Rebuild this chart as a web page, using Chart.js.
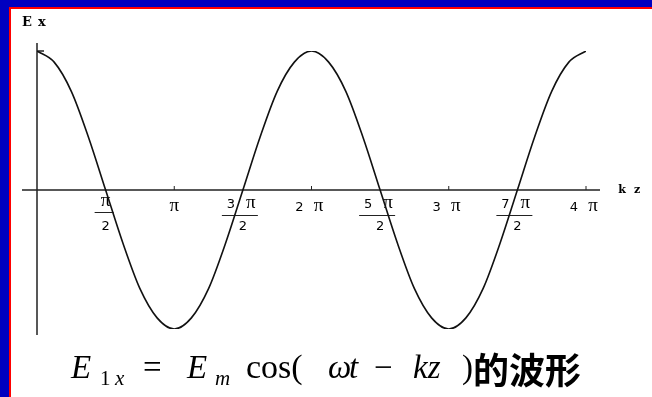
<!DOCTYPE html>
<html lang="zh">
<head>
<meta charset="UTF-8">
<title>Ex 波形</title>
<script src="https://cdn.jsdelivr.net/npm/chart.js@4/dist/chart.umd.min.js"></script>
<style>
  html, body { margin: 0; padding: 0; background: #0000c0; }
  .frame { position: relative; width: 652px; height: 397px; overflow: hidden; }
  .red { position: absolute; left: 9px; top: 7px; right: 0; bottom: 0; background: #ff0000; }
  .paper { position: absolute; left: 11px; top: 9px; right: 0; bottom: 0; background: #ffffff; }
  #wave { position: absolute; left: 0; top: 0; }
</style>
</head>
<body>
<div class="frame">
  <div class="red"></div>
  <div class="paper"></div>
  <canvas id="wave" width="652" height="397"></canvas>
</div>
<script>
// kz 取值（以 π 为单位），每 π/8 一个点
const kzValues = [
  0, 0.125, 0.25, 0.375, 0.5, 0.625, 0.75, 0.875,
  1, 1.125, 1.25, 1.375, 1.5, 1.625, 1.75, 1.875,
  2, 2.125, 2.25, 2.375, 2.5, 2.625, 2.75, 2.875,
  3, 3.125, 3.25, 3.375, 3.5, 3.625, 3.75, 3.875, 4
];
// Ex（以 Em 为单位）
const exValues = [
  1, 0.92, 0.71, 0.38, 0, -0.38, -0.71, -0.92,
  -1, -0.92, -0.71, -0.38, 0, 0.38, 0.71, 0.92,
  1, 0.92, 0.71, 0.38, 0, -0.38, -0.71, -0.92,
  -1, -0.92, -0.71, -0.38, 0, 0.38, 0.71, 0.92, 1
];

// 横轴刻度：整数倍 π 和半整数倍 π（分数形式）
const wholeTicks = [1, 2, 3, 4];
const wholeDigits = ["", "2", "3", "4"];
const halfTicks = [0.5, 1.5, 2.5, 3.5];
const halfDigits = ["", "3", "5", "7"];

const points = kzValues.map((k, i) => ({ x: k, y: exValues[i] }));

const axisColor = "#222";
const labelFont = "13px 'DejaVu Sans'";
const piFont = "19px 'Liberation Serif'";
const serif = "'Liberation Serif'";

// 公式各段：文字、字体、x、基线偏移
const formula = [
  ["E", "italic 33px " + serif, 71, 0],
  ["1", "21px " + serif, 100, 7],
  ["x", "italic 21px " + serif, 115, 7],
  ["=", "33px " + serif, 143, 0],
  ["E", "italic 33px " + serif, 187, 0],
  ["m", "italic 21px " + serif, 215, 7],
  ["cos(", "34px " + serif, 246, 0],
  ["ω", "italic 33px " + serif, 328, 0],
  ["t", "italic 33px " + serif, 349, 0],
  ["−", "33px " + serif, 374, 0],
  ["kz", "italic 33px " + serif, 413, 0],
  [")", "33px " + serif, 462, 0],
  ["的波形", "bold 36px 'Noto Sans CJK SC'", 473, 6],
];

// 坐标轴、刻度、标注和公式
const axesPlugin = {
  id: "axes",
  beforeDatasetsDraw(chart) {
    const ctx = chart.ctx;
    const xs = chart.scales.x;
    const ys = chart.scales.y;
    const x0 = xs.getPixelForValue(0);
    const y0 = ys.getPixelForValue(0);

    ctx.save();
    ctx.strokeStyle = axisColor;
    ctx.lineWidth = 1.5;
    ctx.beginPath();
    ctx.moveTo(x0, 43);
    ctx.lineTo(x0, 335);
    ctx.moveTo(22, y0);
    ctx.lineTo(600, y0);
    // 纵轴上的最大值刻度
    const yTop = ys.getPixelForValue(1);
    ctx.moveTo(x0, yTop);
    ctx.lineTo(x0 + 7, yTop);
    ctx.stroke();

    ctx.lineWidth = 1;
    ctx.fillStyle = "#000";
    ctx.textAlign = "center";
    ctx.textBaseline = "alphabetic";

    // 整数倍 π
    wholeTicks.forEach((v, i) => {
      const x = xs.getPixelForValue(v);
      ctx.beginPath();
      ctx.moveTo(x, y0);
      ctx.lineTo(x, y0 - 4);
      ctx.stroke();
      if (wholeDigits[i]) {
        ctx.font = labelFont;
        ctx.fillText(wholeDigits[i], x - 12, 211);
        ctx.font = piFont;
        ctx.fillText("π", x + 7, 211);
      } else {
        ctx.font = piFont;
        ctx.fillText("π", x, 211);
      }
    });

    // 半整数倍 π，写成分数
    halfTicks.forEach((v, i) => {
      const x = xs.getPixelForValue(v);
      ctx.beginPath();
      if (halfDigits[i]) {
        ctx.font = labelFont;
        ctx.fillText(halfDigits[i], x - 12, 208);
        ctx.font = piFont;
        ctx.fillText("π", x + 8, 208);
        ctx.moveTo(x - 21, 215.5);
        ctx.lineTo(x + 15, 215.5);
      } else {
        ctx.font = piFont;
        ctx.fillText("π", x, 206);
        ctx.moveTo(x - 11, 212.5);
        ctx.lineTo(x + 8, 212.5);
      }
      ctx.stroke();
      ctx.font = labelFont;
      ctx.fillText("2", x, 230);
    });

    // 轴名
    ctx.font = "bold 13px 'DejaVu Serif'";
    ctx.fillText("E", 27, 26);
    ctx.fillText("x", 42, 26);
    ctx.font = "bold 11px 'DejaVu Serif'";
    ctx.fillText("k", 622, 193);
    ctx.fillText("z", 637, 193);

    // 公式 E1x = Em cos(ωt − kz) 的波形
    ctx.textAlign = "left";
    const base = 378;
    formula.forEach(([text, font, x, dy]) => {
      ctx.font = font;
      ctx.fillText(text, x, base + dy);
    });
    ctx.restore();
  },
};

new Chart(document.getElementById("wave"), {
  type: "line",
  data: {
    datasets: [
      {
        data: points,
        borderColor: "#111",
        borderWidth: 1.6,
        pointRadius: 0,
        fill: false,
        cubicInterpolationMode: "monotone",
      },
    ],
  },
  options: {
    responsive: false,
    animation: false,
    devicePixelRatio: 1,
    layout: { padding: { left: 37, right: 66, top: 51, bottom: 68 } },
    plugins: { legend: { display: false }, tooltip: { enabled: false } },
    scales: {
      x: { type: "linear", min: 0, max: 4, display: false },
      y: { min: -1, max: 1, display: false },
    },
  },
  plugins: [axesPlugin],
});
</script>
</body>
</html>
